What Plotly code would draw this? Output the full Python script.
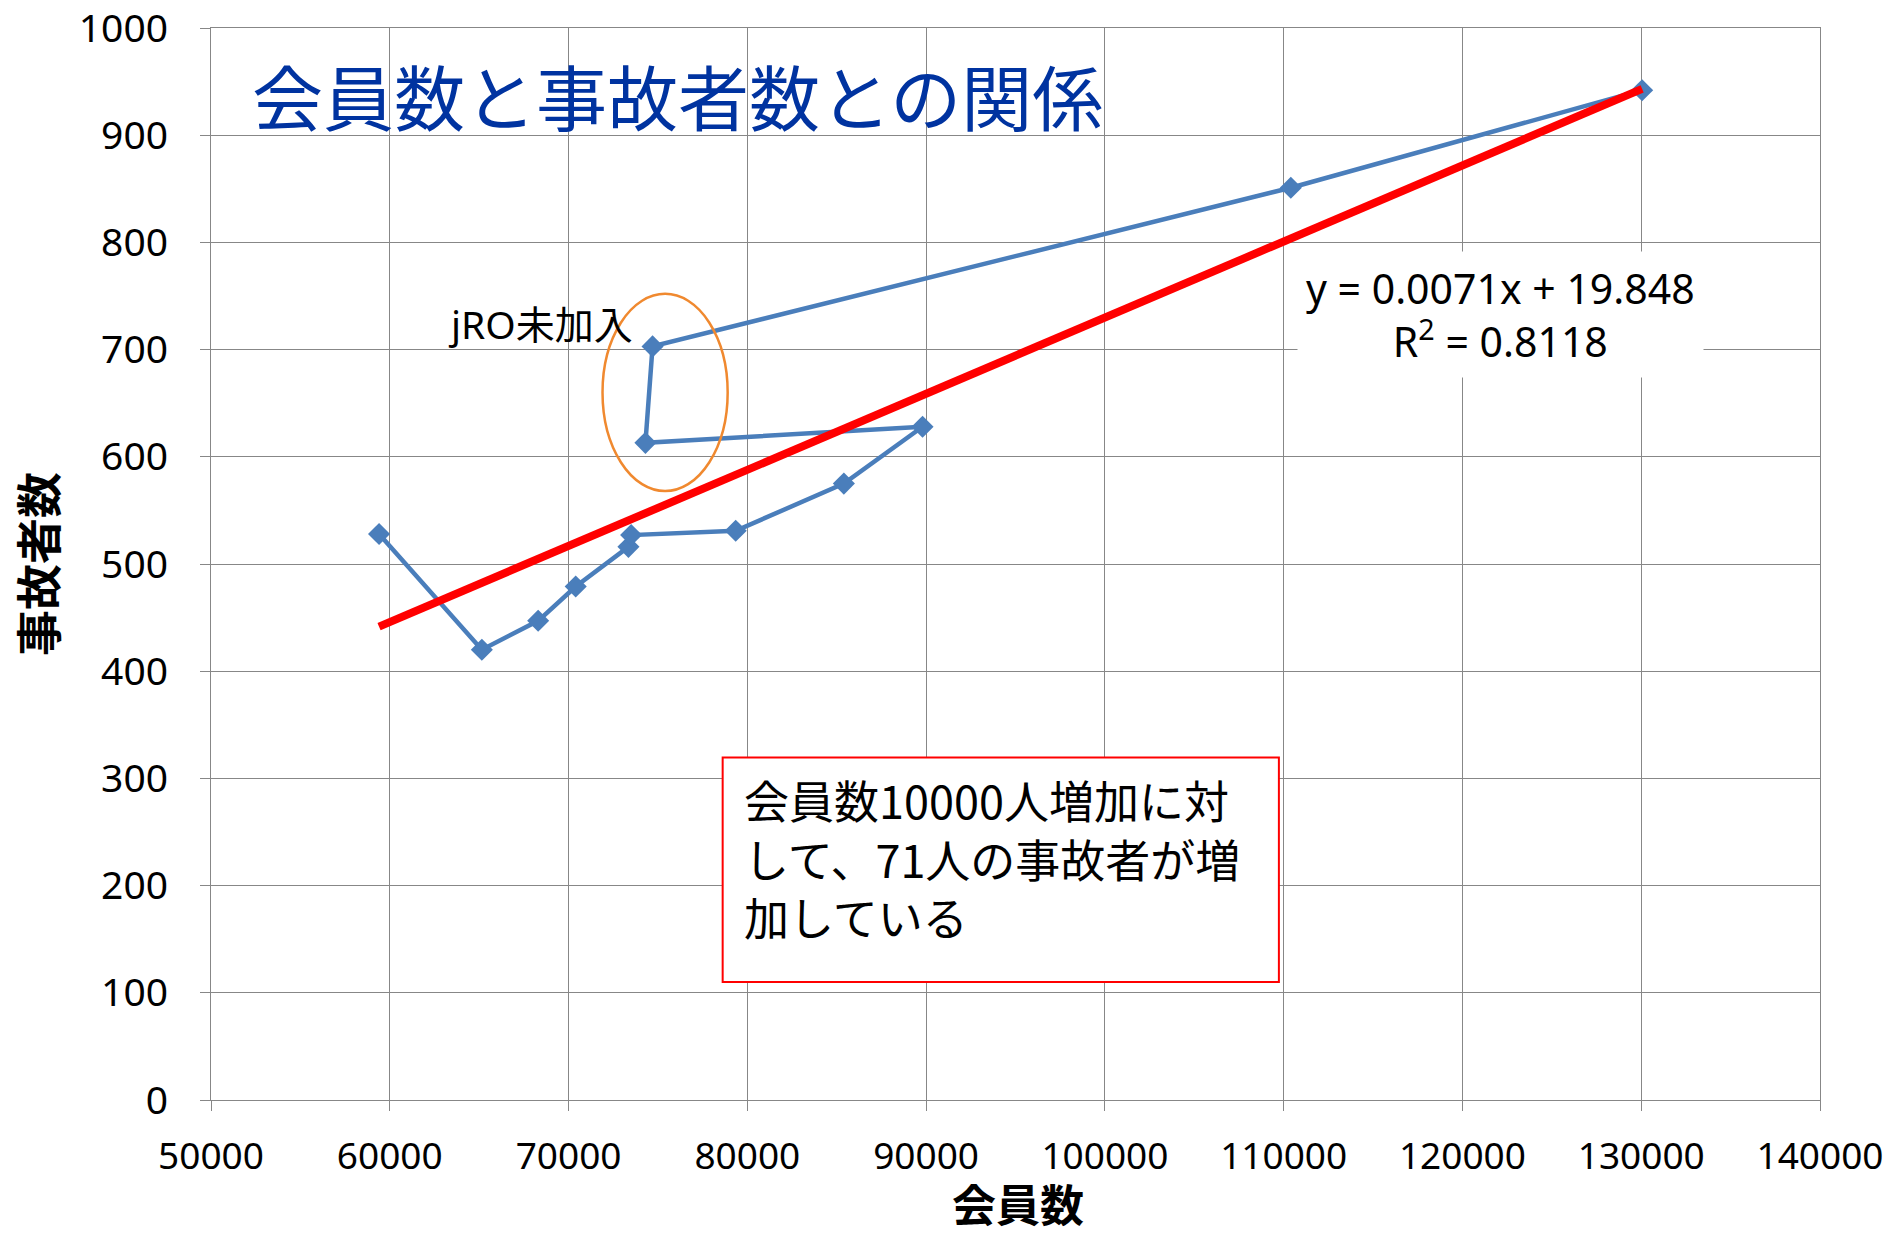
import plotly.graph_objects as go

# Members (x) vs. accident victims (y), in chronological order
members = [59400, 65150, 68300, 70400, 73350, 73500, 79350, 85400, 89800,
           74300, 74700, 110400, 130050]
victims = [528, 420, 447, 479, 516, 527, 531, 575, 628,
           613, 703, 851, 942]

# Linear trend reported on the chart
slope = 0.0071
intercept = 19.848
r_squared = 0.8118

x_ticks = [50000, 60000, 70000, 80000, 90000, 100000, 110000, 120000, 130000, 140000]
y_ticks = [0, 100, 200, 300, 400, 500, 600, 700, 800, 900, 1000]

title_text = "会員数と事故者数との関係"
x_title = "会員数"
y_title = "事故者数"
circle_label = "jRO未加入"
note_lines = ["会員数10000人増加に対", "して、71人の事故者が増", "加している"]

CJK = "Noto Sans CJK JP"
LATIN = "Noto Sans, Noto Sans CJK JP"
GRID = "#878787"

trend_x = [min(members), max(members)]
trend_y = [slope * v + intercept for v in trend_x]

fig = go.Figure()

fig.add_trace(go.Scatter(
    x=members, y=victims, mode="lines+markers",
    line=dict(color="#4A7EBB", width=4.5),
    marker=dict(symbol="diamond", size=17, color="#4A7EBB"),
    showlegend=False, hoverinfo="x+y",
))

fig.add_trace(go.Scatter(
    x=trend_x, y=trend_y, mode="lines",
    line=dict(color="#FF0000", width=8),
    showlegend=False, hoverinfo="skip",
))

# Orange ellipse around the pre-jRO points
fig.add_shape(type="circle", xref="x", yref="y",
              x0=71900, x1=78900, y0=568, y1=752,
              line=dict(color="#F0892F", width=2.5), layer="above")

# Red-bordered note box
fig.add_shape(type="rect", xref="paper", yref="paper",
              x0=0.318, x1=0.6637, y0=0.110, y1=0.3195,
              fillcolor="white", line=dict(color="#FF0000", width=2), layer="above")

axis_common = dict(
    showgrid=True, gridcolor=GRID, gridwidth=1.3,
    showline=True, mirror=True, linecolor=GRID, linewidth=1.3,
    ticks="outside", ticklen=10, tickcolor=GRID, tickwidth=1.3,
    ticklabeloverflow="allow", automargin=False, zeroline=False,
)

fig.update_layout(
    width=1889, height=1233,
    margin=dict(l=211, r=69, t=28, b=133),
    paper_bgcolor="white", plot_bgcolor="white",
    font=dict(family=LATIN, color="#000000"),
    xaxis=dict(
        range=[50000, 140000], tickvals=x_ticks, ticktext=[str(v) for v in x_ticks],
        tickfont=dict(size=37, family=LATIN, color="#000"),
        ticklabelstandoff=13, **axis_common,
    ),
    yaxis=dict(
        range=[0, 1000], tickvals=y_ticks, ticktext=[str(v) for v in y_ticks],
        tickfont=dict(size=39, family=LATIN, color="#000"),
        ticklabelstandoff=24, **axis_common,
    ),
    annotations=[
        dict(text=title_text, xref="paper", yref="paper", x=0.024, y=0.938,
             xanchor="left", yanchor="middle", showarrow=False,
             font=dict(size=71, family=CJK, color="#0033A0")),
        dict(text=x_title, xref="paper", yref="paper", x=0.5016, y=-0.0965,
             xanchor="center", yanchor="middle", showarrow=False,
             font=dict(size=44, family=CJK, weight="bold", color="#000")),
        dict(text=y_title, xref="paper", yref="paper", x=-0.1088, y=0.500,
             xanchor="center", yanchor="middle", showarrow=False, textangle=-90,
             font=dict(size=46, family=CJK, weight="bold", color="#000")),
        dict(text=circle_label, xref="x", yref="y", x=73700, y=724,
             xanchor="right", yanchor="middle", showarrow=False,
             font=dict(size=39, family=LATIN, color="#000")),
        dict(text=f"y = {slope}x + {intercept}<br>R<sup>2</sup> = {r_squared}",
             xref="x", yref="y", x=122150, y=733,
             xanchor="center", yanchor="middle", showarrow=False, align="center",
             bgcolor="white", borderpad=8,
             font=dict(size=41, family=LATIN, color="#000")),
        dict(text="<br>".join(note_lines), xref="paper", yref="paper",
             x=0.330, y=0.3128, xanchor="left", yanchor="top", showarrow=False,
             align="left",
             font=dict(size=45, family=CJK, color="#000")),
    ],
)

fig.write_html("out.html")
